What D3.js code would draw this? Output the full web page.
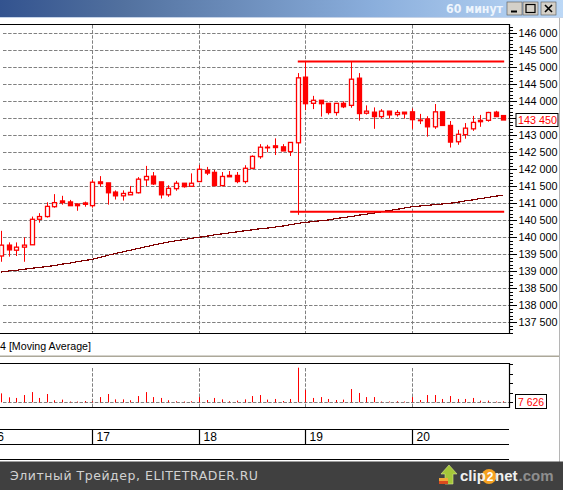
<!DOCTYPE html>
<html><head><meta charset="utf-8">
<style>html,body{margin:0;padding:0;background:#fff;overflow:hidden}svg{display:block;font-family:"Liberation Sans",Arial,sans-serif}</style>
<script src="https://cdn.jsdelivr.net/npm/d3@7"></script></head><body><div id="c"></div>
<script>
const firstBar = -12;
const open = [139450,139770,139620,139710,139780,140530,140610,140900,141070,141040,140980,141010,140930,141630,141600,141330,141220,141250,141310,141690,141800,141630,141250,141430,141590,141500,141640,141970,141910,141520,141820,141820,141640,142030,142370,142640,142690,142660,142520,142780,144710,143940,144030,143940,143670,143940,143880,144680,143650,143680,143550,143710,143610,143680,143690,143450,143480,143250,143690,143290,142810,143020,143190,143440,143440,143680,143580];
const high = [140190,139850,139850,140000,140610,140710,141030,141270,141220,141100,140980,141050,141690,141800,141600,141380,141380,141510,141770,142100,141920,141630,141530,141660,141590,141880,142130,142070,141980,141920,141950,141920,142120,142410,142740,142720,142910,142740,142790,144830,145160,144160,144030,143940,143940,144000,145160,144830,143880,143820,143770,143710,143740,143680,143790,143630,143560,143920,143690,143420,143160,143360,143570,143600,143690,143720,143580];
const low = [139280,139430,139450,139280,139780,140430,140580,140870,140960,140930,140780,140900,140870,141490,140960,141110,141080,141250,141290,141510,141540,141140,141190,141370,141460,141500,141620,141830,141520,141520,141780,141590,141580,142000,142310,142500,142420,142540,142390,140660,143740,143770,143550,143610,143580,143800,143810,143430,143610,143190,143500,143490,143550,143490,143190,143330,142960,143190,143290,142640,142720,142900,143130,143250,143400,143550,143450];
const close = [139770,139630,139710,139770,140530,140610,140910,141020,141020,140930,140930,140970,141620,141580,141310,141220,141290,141320,141710,141790,141570,141250,141440,141590,141490,141590,142000,141890,141520,141790,141780,141640,142030,142380,142650,142650,142640,142540,142790,144690,143930,144030,143930,143670,143940,143840,144650,143640,143710,143550,143710,143600,143670,143630,143460,143430,143250,143690,143290,142800,143030,143210,143380,143400,143670,143550,143450];
const movingAverage = [138980,139010,139030,139060,139090,139110,139140,139170,139210,139240,139280,139320,139350,139410,139470,139520,139570,139620,139670,139720,139770,139820,139860,139900,139930,139970,140000,140030,140070,140100,140130,140160,140190,140220,140250,140270,140300,140330,140370,140410,140440,140460,140490,140510,140550,140580,140610,140650,140680,140710,140750,140790,140820,140860,140900,140920,140940,140960,140980,141000,141030,141070,141100,141140,141170,141210,141240];
const volume = [70000,39000,34000,57000,80000,34000,65000,16000,21000,6000,6000,10000,8000,41000,65000,23000,23000,16000,49000,80000,41000,34000,16000,8000,6000,8000,41000,18000,34000,23000,8000,13000,23000,49000,57000,21000,26000,10000,26000,271000,96000,34000,41000,26000,18000,21000,104000,73000,41000,41000,6000,6000,8000,6000,41000,18000,57000,57000,26000,49000,26000,26000,34000,13000,13000,6000,7626];
const dayLabels = ["16","17","18","19","20"];
const dayStartBars = [-14,0,14,28,42];
const priceTicks = [137500,138000,138500,139000,139500,140000,140500,141000,141500,142000,142500,143000,143500,144000,144500,145000,145500,146000];
const volumeTicks = [0,75000,150000,225000,300000];
const levelHigh = {price:145170, fromBar:27};
const levelLow = {price:140750, fromBar:26};
const levelEndBar = 54;
const lastPrice = 143450, lastVolume = 7626;
const titleText = "60 минут", legendText = "4 [Moving Average]", footerText = "Элитный Трейдер, ELITETRADER.RU";

const W=563,H=490, R=509;
const red="#ff0000", grid="#808080";
const x=d3.scaleLinear().domain([0,14]).range([92.4,198.9]);
const y=d3.scaleLinear().domain([137500,146000]).range([322.3,33.3]);
const yv=d3.scaleLinear().domain([0,300000]).range([402.3,364]);
const fmt=d3.formatLocale({decimal:".",thousands:" ",grouping:[3],currency:["",""]}).format(",d");
const svg=d3.select("#c").append("svg").attr("width",W).attr("height",H);
const defs=svg.append("defs");
const g0=defs.append("linearGradient").attr("id","tb");
[[0,"#33538f"],[.22,"#52719f"],[.66,"#8aaedc"],[1,"#bcd8f6"]].forEach(s=>g0.append("stop").attr("offset",s[0]).attr("stop-color",s[1]));
const cp=defs.append("clipPath").attr("id","main");cp.append("rect").attr("x",0).attr("y",25).attr("width",R).attr("height",308);

// title bar
svg.append("rect").attr("width",W).attr("height",17).attr("fill","url(#tb)");
svg.append("rect").attr("y",17).attr("width",W).attr("height",1).attr("fill","#c5d3e8");
svg.append("text").attr("x",446).attr("y",13).attr("fill","#eef5fd").attr("font-weight","bold").attr("font-size",13).attr("font-family","DejaVu Sans").attr("textLength",57).attr("lengthAdjust","spacingAndGlyphs").text(titleText);
[[507,"min"],[523,"max"],[541,"close"]].forEach(([bx,k])=>{
  const b=svg.append("g").attr("transform",`translate(${bx},2)`);
  b.append("rect").attr("width",15).attr("height",13).attr("fill","#d4d0c8").attr("stroke","#555").attr("stroke-width",.6);
  if(k==="min")b.append("rect").attr("x",4).attr("y",8.5).attr("width",6).attr("height",2).attr("fill","#000");
  if(k==="max")b.append("rect").attr("x",3).attr("y",2.5).attr("width",9).attr("height",8).attr("fill","none").attr("stroke","#000").attr("stroke-width",1.2);
  if(k==="close")b.append("path").attr("d","M4 3L11 10M11 3L4 10").attr("stroke","#000").attr("stroke-width",1.6);
});
svg.append("rect").attr("x",559).attr("y",18).attr("width",1).attr("height",444).attr("fill","#b5b5b5");

// grids
const main=svg.append("g").attr("clip-path","url(#main)");
main.selectAll(".h").data(priceTicks).join("line").attr("x1",3).attr("x2",R).attr("y1",d=>Math.round(y(d))+.5).attr("y2",d=>Math.round(y(d))+.5).attr("stroke",grid).attr("stroke-dasharray","3.5 1.6");
const gridBars=dayStartBars.slice(1);
main.selectAll(".v").data(gridBars).join("line").attr("x1",d=>Math.round(x(d))+.5).attr("x2",d=>Math.round(x(d))+.5).attr("y1",25).attr("y2",333).attr("stroke",grid).attr("stroke-dasharray","3.5 1.6");

// moving average
const bars=d3.range(open.length).map(i=>({i:i+firstBar,o:open[i],h:high[i],l:low[i],c:close[i],ma:movingAverage[i],v:volume[i]}));
main.append("path").datum(bars).attr("fill","none").attr("stroke","#800000").attr("stroke-width",1.2).attr("shape-rendering","crispEdges").attr("d",d3.line().x(d=>x(d.i)).y(d=>y(d.ma)));

// candles
const cs=main.selectAll(".c").data(bars).join("g");
cs.append("line").attr("x1",d=>Math.round(x(d.i))+.5).attr("x2",d=>Math.round(x(d.i))+.5).attr("y1",d=>y(d.h)).attr("y2",d=>y(d.l)).attr("stroke",red).attr("stroke-width",1);
cs.append("rect").attr("x",d=>Math.round(x(d.i))-1.5).attr("width",4).attr("y",d=>y(Math.max(d.o,d.c))).attr("height",d=>Math.max(.6,Math.abs(y(d.o)-y(d.c)))).attr("fill",d=>d.c>=d.o?"#fff":red).attr("stroke",red).attr("stroke-width",1.3);

// levels
[levelHigh,levelLow].forEach(l=>main.append("line").attr("x1",x(l.fromBar)).attr("x2",x(levelEndBar)+1).attr("y1",y(l.price)).attr("y2",y(l.price)).attr("stroke",red).attr("stroke-width",2));

// main frame
svg.append("path").attr("d",`M0 24.5H${R}.5V333.5H0`).attr("fill","none").attr("stroke","#000").attr("stroke-width",1.2);

// price axis
const ax=svg.append("g").attr("transform",`translate(${R+.5},0)`);
const minor=d3.range(137200,146300,100);
ax.call(d3.axisRight(y).tickValues(minor).tickSize(3).tickFormat("")).select(".domain").remove();
const ax2=svg.append("g").attr("transform",`translate(${R+.5},0)`);
ax2.call(d3.axisRight(y).tickValues(priceTicks).tickSize(7).tickPadding(2).tickFormat(d=>d===143500?"":fmt(d))).select(".domain").remove();
ax2.selectAll("text").filter(d=>d===143500).remove();
ax2.selectAll("text").attr("font-size",11.5).attr("font-family","Liberation Sans").attr("fill","#000").attr("textLength",39).attr("lengthAdjust","spacingAndGlyphs");
svg.selectAll(".tick line").attr("stroke","#000").attr("shape-rendering","crispEdges");

// last price
const py=y(lastPrice);
svg.append("rect").attr("x",516).attr("y",py-6.5).attr("width",42).attr("height",13).attr("fill","#fff").attr("stroke","#000");
svg.append("text").attr("x",518).attr("y",py+4.2).attr("fill",red).attr("font-size",11.5).attr("textLength",39).attr("lengthAdjust","spacingAndGlyphs").text(fmt(lastPrice));

// legend
svg.append("text").attr("x",0).attr("y",350).attr("font-size",11).attr("fill","#000").attr("textLength",91).attr("lengthAdjust","spacingAndGlyphs").text(legendText);
svg.append("rect").attr("x",0).attr("y",355.5).attr("width",559).attr("height",1.5).attr("fill","#aca899");

// volume panel
const vp=svg.append("g");
vp.append("line").attr("x1",3).attr("x2",R).attr("y1",402.5).attr("y2",402.5).attr("stroke",grid).attr("stroke-dasharray","3.5 1.6");
vp.selectAll(".v").data(gridBars).join("line").attr("x1",d=>Math.round(x(d))+.5).attr("x2",d=>Math.round(x(d))+.5).attr("y1",368).attr("y2",407).attr("stroke",grid).attr("stroke-dasharray","3.5 1.6");
vp.selectAll(".b").data(bars).join("line").attr("x1",d=>Math.round(x(d.i))+.5).attr("x2",d=>Math.round(x(d.i))+.5).attr("y1",yv(0)).attr("y2",d=>yv(d.v)).attr("stroke",red);
svg.append("path").attr("d",`M0 363.5H${R}.5V407.5H0`).attr("fill","none").attr("stroke","#000").attr("stroke-width",1.2);
const vax=svg.append("g").attr("transform",`translate(${R+.5},0)`);
vax.call(d3.axisRight(yv).tickValues(volumeTicks).tickSize(3).tickFormat("")).select(".domain").remove();
vax.selectAll("line").attr("stroke","#000").attr("shape-rendering","crispEdges");
svg.append("rect").attr("x",515.5).attr("y",394.5).attr("width",31).attr("height",14).attr("fill","#fff").attr("stroke","#000");
svg.append("text").attr("x",518).attr("y",405.5).attr("fill",red).attr("font-size",11.5).attr("textLength",26).attr("lengthAdjust","spacingAndGlyphs").text(fmt(lastVolume));

// date row
[429.5,444.5,459.5].forEach(v=>svg.append("line").attr("x1",0).attr("x2",R).attr("y1",v).attr("y2",v).attr("stroke","#000").attr("stroke-width",1.2));
svg.selectAll(".s").data(dayStartBars.slice(1)).join("line").attr("x1",d=>Math.round(x(d))+.5).attr("x2",d=>Math.round(x(d))+.5).attr("y1",429.5).attr("y2",444.5).attr("stroke","#000").attr("stroke-width",1.2);
svg.selectAll(".d").data(dayLabels).join("text").attr("x",(d,i)=>Math.round(x(dayStartBars[i]))+4.5).attr("y",441).attr("font-size",12).attr("fill","#000").text(d=>d);

// footer
svg.append("rect").attr("y",461.5).attr("width",W).attr("height",H-461.5).attr("fill","#404040");
svg.append("text").attr("x",10).attr("y",480).attr("fill","#d2d2d2").attr("font-size",12.5).attr("font-family","DejaVu Sans").attr("textLength",248).text(footerText);
svg.append("path").attr("d","M449 465L457 474H453V484H445V474H441Z").attr("fill","#a4c639").attr("stroke","#d8e88a").attr("stroke-width",.6);
svg.append("rect").attr("x",439).attr("y",478).attr("width",9).attr("height",3).attr("fill","#f0a83a");
svg.append("rect").attr("x",439).attr("y",481).attr("width",9).attr("height",3).attr("fill","#d94a1e");
svg.append("circle").attr("cx",489).attr("cy",476.5).attr("r",7.5).attr("fill","#f5a020");
svg.append("text").attr("x",490).attr("y",481).attr("text-anchor","middle").attr("fill","#fff").attr("font-weight","bold").attr("font-size",12).text("2");
const logo=[["clip",460,"#f0f0f0"],["net",495,"#f0f0f0"],[".com",518.5,"#8e8e8e"]];
logo.forEach(([t,lx,col])=>svg.append("text").attr("x",lx).attr("y",481).attr("fill",col).attr("font-weight","bold").attr("font-size",15).text(t));
</script></body></html>
